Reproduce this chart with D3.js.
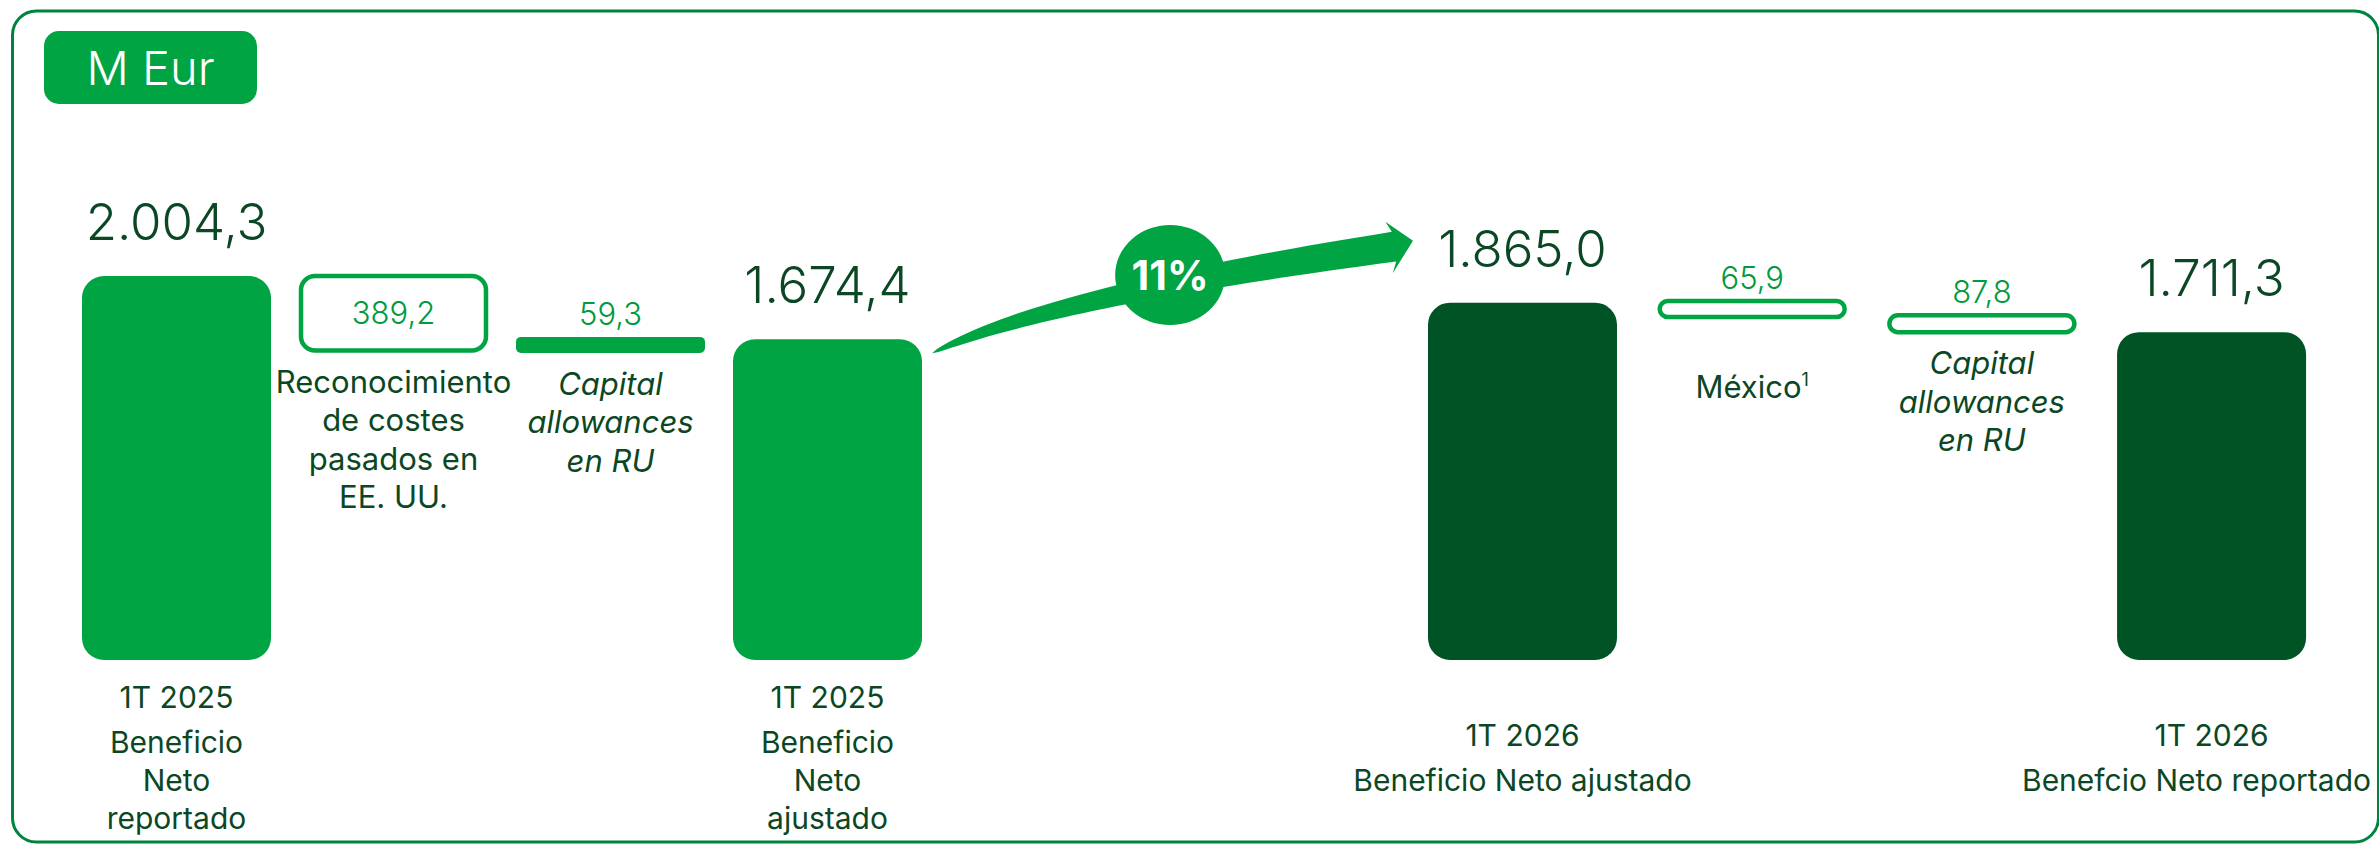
<style>
  body{
    margin: 0;
    background-color: #ffffff;
  }
  #vis{
    display: block;
  }
</style>

<script src="https://d3js.org/d3.v7.min.js"></script>
<svg id="vis"></svg>
<script>
  var width = 2379,
    height = 845,
    //colors
    green = "#00a443",
    darkGreen = "#005325",
    textDark = "#0b4724",
    textGreen = "#009a40",
    frameGreen = "#00843d",
    font = "Inter, 'Open Sans', sans-serif";

  // data -------------------------------------------------
  var steps = ["rep25", "eeuu", "ruk25", "adj25", "adj26", "mex", "ruk26", "rep26"];
  var values = [2004.3, -389.2, 59.3, 1674.4, 1865.0, -65.9, -87.8, 1711.3];
  var isTotal = [true, false, false, true, true, false, false, true];
  var periods = ["1T 2025", "", "", "1T 2025", "1T 2026", "", "", "1T 2026"];
  var totalNames = [
    ["Beneficio", "Neto", "reportado"], [], [],
    ["Beneficio", "Neto", "ajustado"],
    ["Beneficio Neto ajustado"], [], [],
    ["Benefcio Neto reportado"]
  ];
  var notes = [
    [], ["Reconocimiento", "de costes", "pasados en", "EE. UU."],
    ["Capital", "allowances", "en RU"], [], [],
    ["México"], ["Capital", "allowances", "en RU"], []
  ];
  var noteItalic = [false, false, true, false, false, false, true, false];
  var noteSup = ["", "", "", "", "", "1", "", ""];
  var leftSteps = steps.slice(0, 4),
    rightSteps = steps.slice(4);
  var growthLabel = "11%";
  var unitLabel = "M Eur";

  // running waterfall
  var running = 0;
  var rows = steps.map(function(k, i) {
    var d = {key: k, i: i, value: values[i], total: isTotal[i]};
    if (d.total) {
      d.start = 0; d.end = d.value; running = d.value;
    } else {
      d.start = running; d.end = running + d.value; running = d.end;
    }
    return d;
  });

  var es = d3.formatLocale({decimal: ",", thousands: ".", grouping: [3], currency: ["", "€"]});
  var fmt = es.format(",.1f");

  // scaling
  var xLeft = d3.scaleBand()
    .domain(leftSteps)
    .range([82, 922])
    .paddingInner(0.129);

  var xRight = d3.scaleBand()
    .domain(rightSteps)
    .range([1428, 2306])
    .paddingInner(0.1775);

  var bw = xLeft.bandwidth();
  function xpos(k) { return leftSteps.indexOf(k) >= 0 ? xLeft(k) : xRight(k); }
  function xmid(k) { return xpos(k) + bw / 2; }

  var y = d3.scaleLinear()
    .domain([0, d3.max(values)])
    .range([660, 276]);

  //making SVG
  var svg = d3.select("#vis")
    .attr("width", width)
    .attr("height", height)
    .style("font-family", font)
    .style("font-weight", 400);

  // frame + unit tag -------------------------------------------------
  svg.append("rect")
    .attr("x", 12.5).attr("y", 11)
    .attr("width", 2366).attr("height", 831)
    .attr("rx", 24)
    .style("fill", "none")
    .style("stroke", frameGreen)
    .style("stroke-width", 3);

  svg.append("rect")
    .attr("x", 44).attr("y", 31)
    .attr("width", 213).attr("height", 73)
    .attr("rx", 15)
    .style("fill", green);

  svg.append("text")
    .attr("x", 150.5).attr("y", 85)
    .attr("text-anchor", "middle")
    .style("font-size", "47px")
    .style("font-weight", 300)
    .style("fill", "#ffffff")
    .text(unitLabel);

  // totals -------------------------------------------------
  var totals = rows.filter(function(d) { return d.total; });

  svg.selectAll(".total")
    .data(totals)
    .enter().append("rect")
    .attr("class", "total")
    .attr("x", d => xpos(d.key))
    .attr("y", d => y(d.value))
    .attr("width", bw)
    .attr("height", d => y(0) - y(d.value))
    .attr("rx", 22)
    .style("fill", d => leftSteps.indexOf(d.key) >= 0 ? green : darkGreen);

  svg.selectAll(".totalLabel")
    .data(totals)
    .enter().append("text")
    .attr("class", "totalLabel")
    .attr("x", d => xmid(d.key))
    .attr("y", d => y(d.value) - 36)
    .attr("text-anchor", "middle")
    .style("font-size", "51px")
    .style("font-weight", 300)
    .style("fill", textDark)
    .text(d => fmt(d.value));

  // deltas -------------------------------------------------
  var deltas = rows.filter(function(d) { return !d.total; });
  deltas.forEach(function(d) {
    var top = y(Math.max(d.start, d.end)),
      bot = y(Math.min(d.start, d.end)),
      mid = (top + bot) / 2;
    d.h = Math.max(bot - top, 16);
    d.top = mid - d.h / 2;
    d.bot = mid + d.h / 2;
  });

  svg.selectAll(".delta")
    .data(deltas)
    .enter().append("rect")
    .attr("class", "delta")
    .attr("x", d => xpos(d.key) + (d.value > 0 ? 0 : 2))
    .attr("y", d => d.top)
    .attr("width", d => bw - (d.value > 0 ? 0 : 4))
    .attr("height", d => d.h)
    .attr("rx", d => d.value > 0 ? 5 : Math.min(14, d.h / 2))
    .style("fill", d => d.value > 0 ? green : "#ffffff")
    .style("stroke", d => d.value > 0 ? "none" : green)
    .style("stroke-width", 4.5);

  svg.selectAll(".deltaLabel")
    .data(deltas)
    .enter().append("text")
    .attr("class", "deltaLabel")
    .attr("x", d => xmid(d.key))
    .attr("y", d => d.h > 50 ? (d.top + d.bot) / 2 + 11 : d.top - 12)
    .attr("text-anchor", "middle")
    .style("font-size", "31px")
    .style("font-weight", 300)
    .style("fill", textGreen)
    .text(d => fmt(Math.abs(d.value)));

  // notes under the deltas
  var noteLine = 38.5;
  deltas.forEach(function(d) {
    var lines = notes[d.i];
    var first = d.bot + 42 + Math.max(0, 3 - lines.length) / 2 * noteLine;
    var t = svg.append("text")
      .attr("class", "note")
      .attr("text-anchor", "middle")
      .style("font-size", "31px")
      .style("font-style", noteItalic[d.i] ? "italic" : "normal")
      .style("fill", textDark);
    lines.forEach(function(s, j) {
      t.append("tspan")
        .attr("x", xmid(d.key))
        .attr("y", first + j * noteLine)
        .text(s);
      if (noteSup[d.i] && j == lines.length - 1) {
        t.append("tspan")
          .attr("dy", -12)
          .style("font-size", "18px")
          .text(noteSup[d.i]);
      }
    });
  });

  // category labels under totals -------------------------------------------------
  var labelMid = 768;
  totals.forEach(function(d) {
    var lines = [periods[d.i]].concat(totalNames[d.i]);
    var span = 45 + 38 * (lines.length - 2);
    var b0 = labelMid - span / 2;
    lines.forEach(function(s, j) {
      var t = svg.append("text")
        .attr("class", "catLabel")
        .attr("x", xmid(d.key))
        .attr("y", j == 0 ? b0 : b0 + 45 + (j - 1) * 38)
        .attr("text-anchor", "middle")
        .style("font-size", "30px")
        .style("fill", textDark)
        .text(s);
      var w = t.node().getComputedTextLength();
      if (xmid(d.key) + w / 2 > width - 8) t.attr("x", width - 8 - w / 2);
    });
  });

  // growth arrow -------------------------------------------------
  var S = [xpos("adj25") + bw + 10, y(1674.4) + 14],
    T = [xpos("adj26") - 15, y(1865.0) - 62],
    E = [T[0] - 19, T[1] + 6],
    C = [S[0] + 111, S[1] - 55.5];

  function bez(t) {
    var u = 1 - t;
    return [u * u * S[0] + 2 * u * t * C[0] + t * t * E[0],
            u * u * S[1] + 2 * u * t * C[1] + t * t * E[1]];
  }
  function tang(t) {
    var dx = 2 * (1 - t) * (C[0] - S[0]) + 2 * t * (E[0] - C[0]),
      dy = 2 * (1 - t) * (C[1] - S[1]) + 2 * t * (E[1] - C[1]),
      l = Math.sqrt(dx * dx + dy * dy);
    return [dx / l, dy / l];
  }

  var upper = [], lower = [];
  d3.range(0, 41).forEach(function(k) {
    var t = k / 40, p = bez(t), tg = tang(t), n = [tg[1], -tg[0]],
      half = 15 * Math.pow(t, 0.6);
    upper.push([p[0] + n[0] * half, p[1] + n[1] * half]);
    lower.push([p[0] - n[0] * half, p[1] - n[1] * half]);
  });
  var tgE = tang(1), nE = [tgE[1], -tgE[0]];
  var head = [
    [E[0] + nE[0] * 26 - tgE[0] * 5, E[1] + nE[1] * 26 - tgE[1] * 5],
    T,
    [E[0] - nE[0] * 26 - tgE[0] * 5, E[1] - nE[1] * 26 - tgE[1] * 5]
  ];
  var arrowPts = upper.concat(head, lower.reverse());

  svg.append("path")
    .attr("class", "arrow")
    .attr("d", d3.line()(arrowPts) + "Z")
    .style("fill", green);

  var bc = bez(0.63);
  svg.append("ellipse")
    .attr("cx", bc[0] + 3)
    .attr("cy", bc[1] - 10)
    .attr("rx", 55)
    .attr("ry", 50)
    .style("fill", green);

  svg.append("text")
    .attr("x", bc[0] + 3)
    .attr("y", bc[1] - 10 + 15)
    .attr("text-anchor", "middle")
    .style("font-size", "41px")
    .style("font-weight", 700)
    .style("fill", "#ffffff")
    .text(growthLabel);
</script>
